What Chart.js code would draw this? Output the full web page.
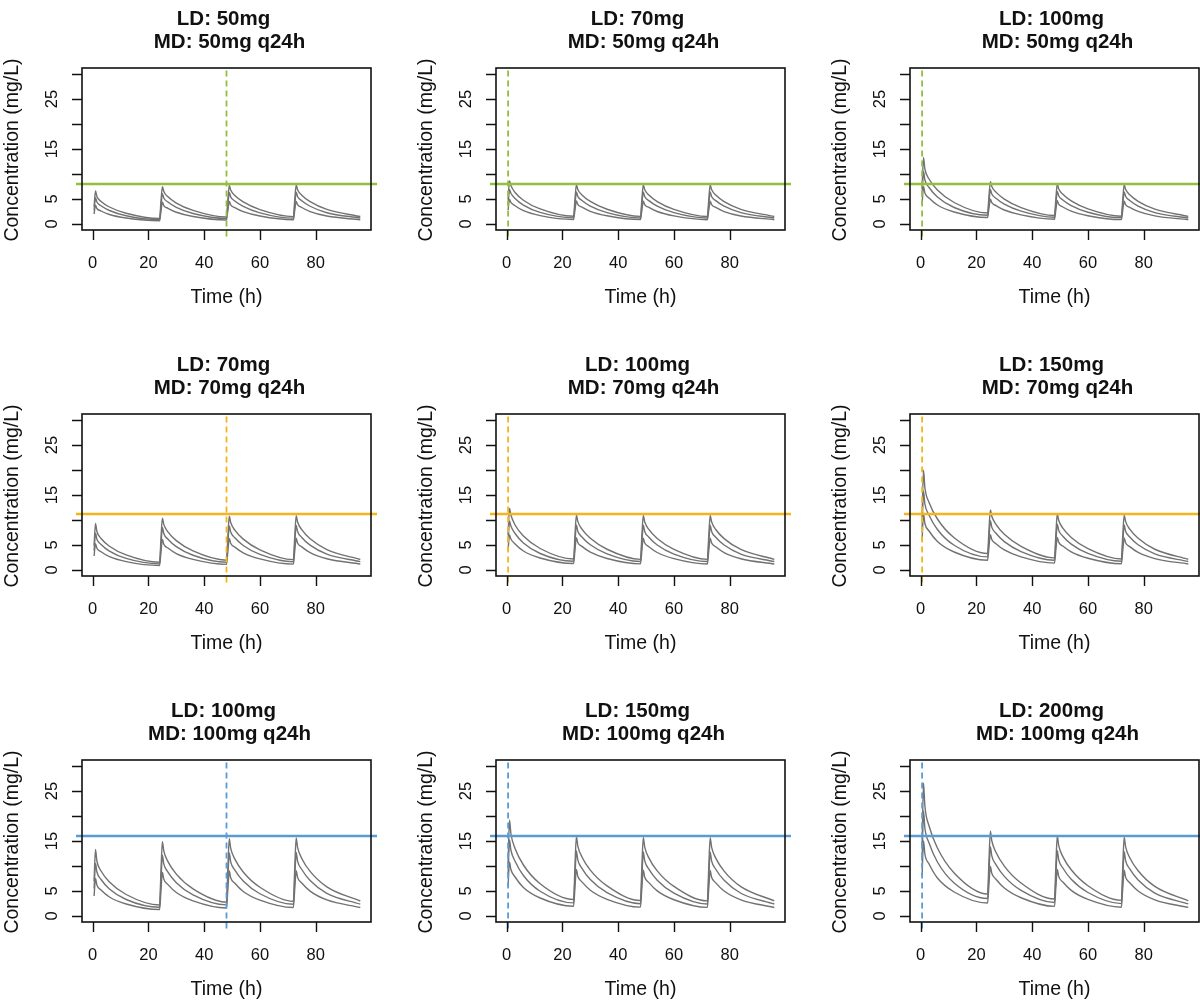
<!DOCTYPE html>
<html>
<head>
<meta charset="utf-8">
<script src="https://cdn.jsdelivr.net/npm/chart.js@4.4.1/dist/chart.umd.min.js"></script>
<style>
  html, body { margin: 0; padding: 0; background: #fff; }
  #grid { position: relative; width: 1200px; height: 1005px; overflow: hidden; }
  .panel { position: absolute; width: 414px; height: 346px; }
</style>
</head>
<body>
<div id="grid"></div>
<script>
// Dosing scenarios (row = maintenance dose, column = loading dose)
const loadingDoses = [50, 70, 100, 70, 100, 150, 100, 150, 200];
const maintDoses = [50, 50, 50, 70, 70, 70, 100, 100, 100];

// Target concentration (mg/L) per row and colours of the reference lines
const targetConc = [8, 11.2, 16];
const rowColours = ['#93bf3e', '#f2b51e', '#5b9bd5'];
// Time of the dashed marker per column (h)
const markerTimes = [48, 0.5, 0.5];

const xTicks = [0, 20, 40, 60, 80];
const yTicks = [0, 5, 10, 15, 20, 25, 30];
const yTickLabels = [0, 5, 15, 25];

// Sampling times (h)
const times = [0.5, 1, 1.5, 3, 6, 12, 24, 24.5, 25, 25.5, 27, 30, 36, 48,
  48.5, 49, 49.5, 51, 54, 60, 72, 72.5, 73, 73.5, 75, 78, 84, 96];

// Upper / median / lower concentration profiles (mg/L), one set per panel
const p1Upper = [3.5, 6.6, 5.5, 4.5, 3.4, 2.15, 1.1, 4.57, 7.44, 6.51, 5.44, 4.19, 2.72, 1.4, 4.86, 7.72, 6.79, 5.69, 4.41, 2.88, 1.48, 4.94, 7.8, 6.86, 5.76, 4.47, 2.92, 1.5];
const p1Median = [2.75, 5.25, 4.4, 3.65, 2.7, 1.65, 0.88, 3.6, 6.08, 5.21, 4.4, 3.33, 2.11, 1.12, 3.84, 6.31, 5.43, 4.6, 3.51, 2.23, 1.18, 3.89, 6.37, 5.49, 4.65, 3.55, 2.26, 1.2];
const p1Lower = [2.0, 3.75, 3.1, 2.6, 1.9, 1.2, 0.65, 2.62, 4.35, 3.69, 3.14, 2.35, 1.51, 0.81, 2.78, 4.5, 3.83, 3.27, 2.46, 1.59, 0.84, 2.81, 4.53, 3.86, 3.3, 2.48, 1.6, 0.85];

const p2Upper = [4.9, 8.6, 7.7, 6.3, 4.76, 3.01, 1.54, 4.99, 7.86, 6.92, 5.81, 4.51, 2.95, 1.52, 4.97, 7.84, 6.9, 5.79, 4.49, 2.94, 1.51, 4.96, 7.83, 6.89, 5.78, 4.48, 2.94, 1.51];
const p2Median = [3.85, 6.9, 6.16, 5.11, 3.78, 2.31, 1.23, 3.94, 6.41, 5.53, 4.7, 3.59, 2.29, 1.21, 3.92, 6.39, 5.51, 4.68, 3.57, 2.28, 1.21, 3.92, 6.39, 5.51, 4.68, 3.57, 2.28, 1.21];
const p2Lower = [2.8, 4.9, 4.34, 3.64, 2.66, 1.68, 0.91, 2.87, 4.6, 3.92, 3.36, 2.53, 1.64, 0.87, 2.84, 4.56, 3.88, 3.32, 2.5, 1.62, 0.86, 2.83, 4.55, 3.87, 3.31, 2.49, 1.61, 0.86];

const p3Upper = [7.0, 13.3, 11.0, 9.0, 6.8, 4.3, 2.2, 5.63, 8.48, 7.52, 6.37, 4.98, 3.29, 1.69, 5.14, 8.0, 7.05, 5.94, 4.62, 3.03, 1.56, 5.01, 7.87, 6.94, 5.83, 4.52, 2.96, 1.52];
const p3Median = [5.5, 10.5, 8.8, 7.3, 5.4, 3.3, 1.75, 4.45, 6.9, 6.01, 5.14, 3.96, 2.56, 1.35, 4.06, 6.53, 5.64, 4.8, 3.67, 2.35, 1.24, 3.95, 6.42, 5.54, 4.7, 3.59, 2.29, 1.21];
const p3Lower = [4.0, 7.5, 6.2, 5.2, 3.8, 2.4, 1.3, 3.25, 4.96, 4.27, 3.68, 2.8, 1.82, 0.96, 2.92, 4.64, 3.96, 3.4, 2.56, 1.66, 0.88, 2.84, 4.57, 3.89, 3.33, 2.51, 1.62, 0.86];

const p4Upper = [4.9, 9.31, 7.7, 6.3, 4.76, 3.01, 1.54, 6.39, 10.36, 9.12, 7.61, 5.87, 3.81, 1.96, 6.8, 10.75, 9.5, 7.97, 6.17, 4.03, 2.07, 6.91, 10.86, 9.6, 8.06, 6.25, 4.09, 2.1];
const p4Median = [3.85, 7.35, 6.16, 5.11, 3.78, 2.31, 1.23, 5.04, 8.51, 7.29, 6.16, 4.67, 2.95, 1.56, 5.36, 8.82, 7.6, 6.44, 4.9, 3.12, 1.65, 5.45, 8.91, 7.68, 6.51, 4.97, 3.17, 1.68];
const p4Lower = [2.8, 5.25, 4.34, 3.64, 2.66, 1.68, 0.91, 3.67, 6.1, 5.16, 4.4, 3.29, 2.12, 1.13, 3.88, 6.3, 5.36, 4.58, 3.44, 2.22, 1.18, 3.93, 6.35, 5.4, 4.62, 3.47, 2.25, 1.19];

const p5Upper = [7.0, 12.3, 11.0, 9.0, 6.8, 4.3, 2.2, 7.03, 10.98, 9.72, 8.17, 6.34, 4.15, 2.13, 6.97, 10.91, 9.66, 8.11, 6.29, 4.12, 2.12, 6.96, 10.9, 9.65, 8.1, 6.28, 4.11, 2.11];
const p5Median = [5.5, 9.8, 8.8, 7.3, 5.4, 3.3, 1.75, 5.55, 9.0, 7.77, 6.6, 5.04, 3.22, 1.7, 5.5, 8.96, 7.72, 6.56, 5.0, 3.19, 1.69, 5.49, 8.95, 7.71, 6.55, 4.99, 3.19, 1.69];
const p5Lower = [4.0, 7.0, 6.2, 5.2, 3.8, 2.4, 1.3, 4.05, 6.46, 5.51, 4.72, 3.56, 2.3, 1.22, 3.97, 6.38, 5.44, 4.65, 3.5, 2.27, 1.2, 3.95, 6.37, 5.42, 4.64, 3.49, 2.26, 1.2];

const p6Upper = [10.5, 19.95, 16.5, 13.5, 10.2, 6.45, 3.3, 8.1, 12.02, 10.74, 9.11, 7.14, 4.73, 2.43, 7.26, 11.2, 9.94, 8.37, 6.51, 4.27, 2.2, 7.03, 10.98, 9.72, 8.17, 6.34, 4.15, 2.13];
const p6Median = [8.25, 15.75, 13.2, 10.95, 8.1, 4.95, 2.63, 6.4, 9.84, 8.58, 7.35, 5.67, 3.68, 1.94, 5.73, 9.18, 7.94, 6.76, 5.18, 3.32, 1.75, 5.55, 9.0, 7.77, 6.6, 5.04, 3.22, 1.7];
const p6Lower = [6.0, 11.25, 9.3, 7.8, 5.7, 3.6, 1.95, 4.67, 7.06, 6.1, 5.26, 4.01, 2.62, 1.38, 4.12, 6.53, 5.58, 4.79, 3.61, 2.34, 1.24, 3.99, 6.4, 5.46, 4.67, 3.52, 2.28, 1.21];

const p7Upper = [7.0, 13.3, 11.0, 9.0, 6.8, 4.3, 2.2, 9.13, 14.88, 13.02, 10.87, 8.38, 5.44, 2.79, 9.71, 15.44, 13.57, 11.37, 8.81, 5.75, 2.95, 9.86, 15.59, 13.71, 11.51, 8.92, 5.83, 3.0];
const p7Median = [5.5, 10.5, 8.8, 7.3, 5.4, 3.3, 1.75, 7.2, 12.15, 10.41, 8.79, 6.66, 4.21, 2.22, 7.65, 12.6, 10.84, 9.19, 7.0, 4.45, 2.35, 7.78, 12.72, 10.96, 9.3, 7.09, 4.52, 2.38];
const p7Lower = [4.0, 7.5, 6.2, 5.2, 3.8, 2.4, 1.3, 5.25, 8.71, 7.37, 6.28, 4.7, 3.02, 1.61, 5.55, 9.0, 7.65, 6.54, 4.91, 3.17, 1.69, 5.62, 9.07, 7.72, 6.6, 4.97, 3.21, 1.71];

const p8Upper = [10.5, 19.2, 16.5, 13.5, 10.2, 6.45, 3.3, 10.2, 15.92, 14.04, 11.81, 9.18, 6.02, 3.09, 10.0, 15.72, 13.84, 11.63, 9.02, 5.91, 3.03, 9.94, 15.66, 13.79, 11.58, 8.98, 5.88, 3.02];
const p8Median = [8.25, 15.2, 13.2, 10.95, 8.1, 4.95, 2.63, 8.05, 12.99, 11.22, 9.54, 7.29, 4.67, 2.46, 7.89, 12.82, 11.06, 9.39, 7.17, 4.58, 2.41, 7.84, 12.78, 11.02, 9.35, 7.14, 4.55, 2.4];
const p8Lower = [6.0, 10.8, 9.3, 7.8, 5.7, 3.6, 1.95, 5.87, 9.31, 7.96, 6.82, 5.15, 3.34, 1.77, 5.7, 9.15, 7.79, 6.67, 5.02, 3.25, 1.72, 5.65, 9.1, 7.75, 6.63, 4.99, 3.23, 1.71];

const p9Upper = [14.0, 26.6, 22.0, 18.0, 13.6, 8.6, 4.4, 11.27, 16.96, 15.05, 12.74, 9.97, 6.59, 3.39, 10.29, 16.0, 14.12, 11.88, 9.24, 6.06, 3.12, 10.03, 15.75, 13.87, 11.65, 9.05, 5.92, 3.04];
const p9Median = [11.0, 21.0, 17.6, 14.6, 10.8, 6.6, 3.5, 8.9, 13.81, 12.02, 10.28, 7.92, 5.12, 2.7, 8.12, 13.05, 11.28, 9.6, 7.34, 4.7, 2.48, 7.91, 12.84, 11.08, 9.41, 7.19, 4.59, 2.42];
const p9Lower = [8.0, 15.0, 12.4, 10.4, 7.6, 4.8, 2.6, 6.5, 9.92, 8.54, 7.36, 5.59, 3.65, 1.92, 5.84, 9.29, 7.93, 6.79, 5.12, 3.32, 1.76, 5.69, 9.14, 7.78, 6.66, 5.01, 3.24, 1.72];

const panelSeries = [
  [p1Upper, p1Median, p1Lower], [p2Upper, p2Median, p2Lower], [p3Upper, p3Median, p3Lower],
  [p4Upper, p4Median, p4Lower], [p5Upper, p5Median, p5Lower], [p6Upper, p6Median, p6Lower],
  [p7Upper, p7Median, p7Lower], [p8Upper, p8Median, p8Lower], [p9Upper, p9Median, p9Lower]
];

const FONT = '"Liberation Sans", Arial, sans-serif';
const INK = '#111';

// R-style frame, ticks and labels drawn from the chart's own scales
const baseAxes = {
  id: 'baseAxes',
  afterDraw(chart, args, opts) {
    const { ctx, chartArea: a, scales: { x, y } } = chart;
    const midX = (a.left + a.right) / 2;
    const midY = (a.top + a.bottom) / 2;
    ctx.save();
    ctx.strokeStyle = INK;
    ctx.fillStyle = INK;
    ctx.lineWidth = 1.6;
    ctx.strokeRect(a.left, a.top, a.right - a.left, a.bottom - a.top);

    ctx.lineWidth = 1.4;
    ctx.beginPath();
    yTicks.forEach(v => {
      const py = Math.round(y.getPixelForValue(v)) + 0.5;
      ctx.moveTo(a.left, py);
      ctx.lineTo(a.left - 10, py);
    });
    xTicks.forEach(v => {
      const px = Math.round(x.getPixelForValue(v)) + 0.5;
      ctx.moveTo(px, a.bottom);
      ctx.lineTo(px, a.bottom + 10);
    });
    ctx.stroke();

    ctx.font = '16.5px ' + FONT;
    ctx.textAlign = 'center';
    ctx.textBaseline = 'middle';
    xTicks.forEach(v => ctx.fillText(String(v), x.getPixelForValue(v), a.bottom + 33));
    yTickLabels.forEach(v => {
      ctx.save();
      ctx.translate(a.left - 30, y.getPixelForValue(v));
      ctx.rotate(-Math.PI / 2);
      ctx.fillText(String(v), 0, 0);
      ctx.restore();
    });

    ctx.font = '19.5px ' + FONT;
    ctx.fillText('Time (h)', midX, a.bottom + 68);
    ctx.save();
    ctx.translate(13, midY + 1);
    ctx.rotate(-Math.PI / 2);
    ctx.fillText('Concentration (mg/L)', 0, 0);
    ctx.restore();

    ctx.font = 'bold 20.5px ' + FONT;
    ctx.textBaseline = 'alphabetic';
    ctx.fillText(opts.line1, midX - 3, 25);
    ctx.fillText(opts.line2, midX + 3, 48);
    ctx.restore();
  }
};

const grid = document.getElementById('grid');

panelSeries.forEach((series, i) => {
  const row = Math.floor(i / 3);
  const col = i % 3;
  const colour = rowColours[row];
  const target = targetConc[row];
  const marker = markerTimes[col];

  const box = document.createElement('div');
  box.className = 'panel';
  box.style.left = (col * 414) + 'px';
  box.style.top = (row * 346) + 'px';
  const canvas = document.createElement('canvas');
  canvas.width = 414;
  canvas.height = 346;
  box.appendChild(canvas);
  grid.appendChild(box);

  const curves = series.map(vals => ({
    data: times.map((t, k) => ({ x: t, y: vals[k] })),
    borderColor: '#727272',
    borderWidth: 1.4,
    pointRadius: 0,
    cubicInterpolationMode: 'monotone',
    order: 2
  }));

  new Chart(canvas, {
    type: 'line',
    data: {
      datasets: [
        {
          data: [{ x: marker, y: -2.5 }, { x: marker, y: 31.2 }],
          borderColor: colour,
          borderWidth: 1.8,
          borderDash: [6, 4],
          pointRadius: 0,
          clip: false,
          order: 0
        },
        {
          data: [{ x: -6, y: target }, { x: 102, y: target }],
          borderColor: colour,
          borderWidth: 2.5,
          pointRadius: 0,
          clip: false,
          order: 1
        },
        ...curves
      ]
    },
    options: {
      responsive: false,
      animation: false,
      events: [],
      layout: { padding: { left: 82, top: 68, right: 43, bottom: 116 } },
      scales: {
        x: { type: 'linear', display: false, min: -3.84, max: 99.84 },
        y: { type: 'linear', display: false, min: -1.2, max: 31.2 }
      },
      plugins: {
        legend: { display: false },
        tooltip: { enabled: false },
        baseAxes: {
          line1: 'LD: ' + loadingDoses[i] + 'mg',
          line2: 'MD: ' + maintDoses[i] + 'mg q24h'
        }
      }
    },
    plugins: [baseAxes]
  });
});
</script>
</body>
</html>
